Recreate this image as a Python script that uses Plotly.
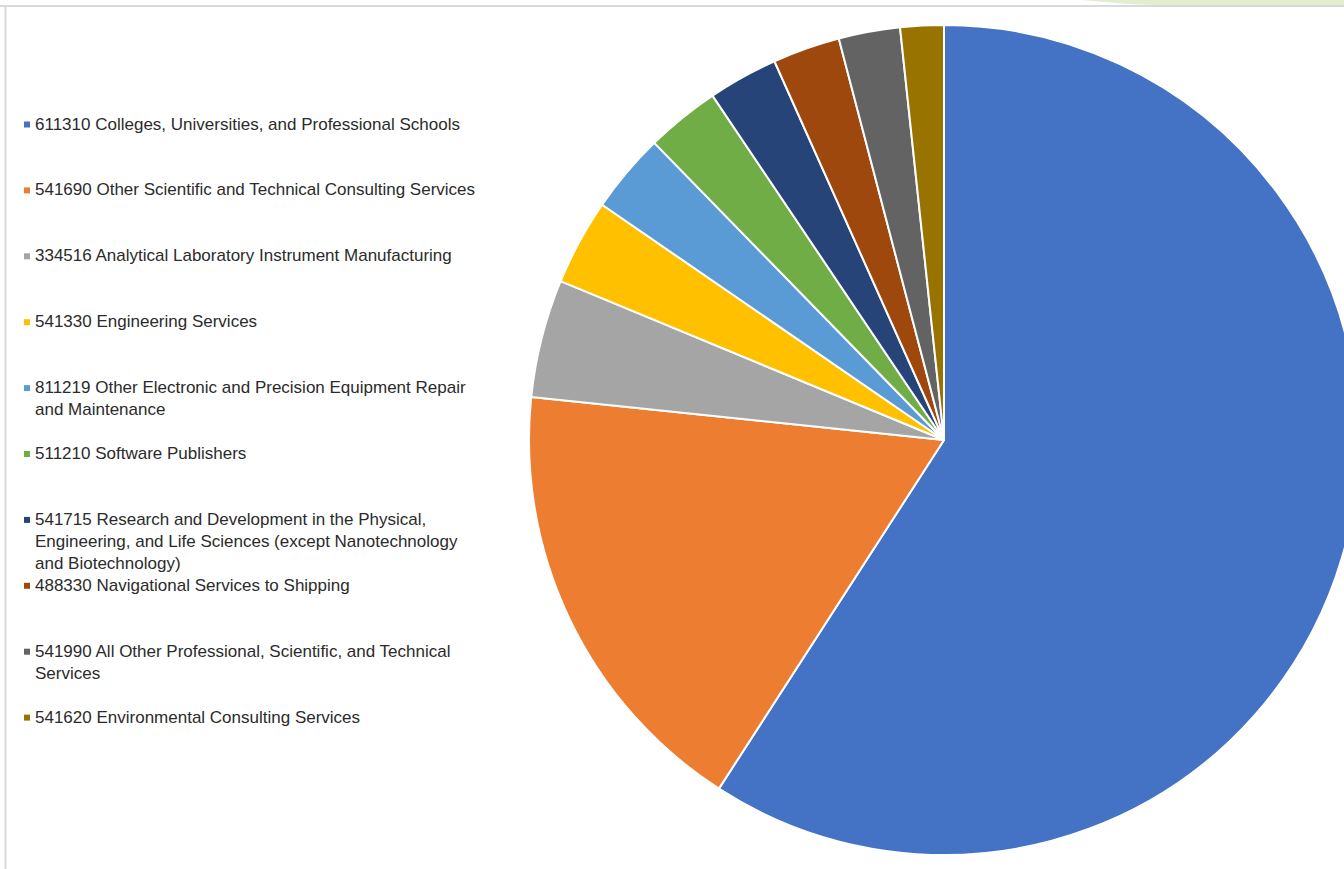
import plotly.graph_objects as go

# ---- data (percent of total) ----
labels = [
    "611310 Colleges, Universities, and Professional Schools",
    "541690 Other Scientific and Technical Consulting Services",
    "334516 Analytical Laboratory Instrument Manufacturing",
    "541330 Engineering Services",
    "811219 Other Electronic and Precision Equipment Repair and Maintenance",
    "511210 Software Publishers",
    "541715 Research and Development in the Physical, Engineering, and Life Sciences (except Nanotechnology and Biotechnology)",
    "488330 Navigational Services to Shipping",
    "541990 All Other Professional, Scientific, and Technical Services",
    "541620 Environmental Consulting Services",
]
legend_text = [
    "611310 Colleges, Universities, and Professional Schools",
    "541690 Other Scientific and Technical Consulting Services",
    "334516 Analytical Laboratory Instrument Manufacturing",
    "541330 Engineering Services",
    "811219 Other Electronic and Precision Equipment Repair<br>and Maintenance",
    "511210 Software Publishers",
    "541715 Research and Development in the Physical,<br>Engineering, and Life Sciences (except Nanotechnology<br>and Biotechnology)",
    "488330 Navigational Services to Shipping",
    "541990 All Other Professional, Scientific, and Technical<br>Services",
    "541620 Environmental Consulting Services",
]
values = [59.13, 17.53, 4.60, 3.34, 3.11, 2.88, 2.72, 2.62, 2.39, 1.69]
colors = ["#4472C4", "#ED7D31", "#A5A5A5", "#FFC000", "#5B9BD5",
          "#70AD47", "#264478", "#9E480E", "#636363", "#997300"]

W, H = 1360, 869

fig = go.Figure(go.Pie(
    labels=labels,
    values=values,
    sort=False,
    direction="clockwise",
    rotation=0,
    marker=dict(colors=colors, line=dict(color="white", width=2)),
    textinfo="none",
    showlegend=False,
    domain=dict(x=[529 / W, 1359 / W], y=[1 - 855 / H, 1 - 25 / H]),
))

# ---- legend drawn as text annotations + small swatches ----
annotations = []
shapes = []
first_center = 124.5
step = 65.9
for i, (txt, col) in enumerate(zip(legend_text, colors)):
    cy = first_center + step * i
    annotations.append(dict(
        x=33 / W, y=1 - (cy - 12) / H, xref="paper", yref="paper",
        xanchor="left", yanchor="top", align="left", showarrow=False,
        text=txt, font=dict(family="Liberation Sans, Arial, sans-serif", size=17, color="#2b2b2b"),
    ))
    shapes.append(dict(
        type="rect", xref="paper", yref="paper",
        x0=24 / W, x1=30 / W, y0=1 - (cy + 3) / H, y1=1 - (cy - 3) / H,
        fillcolor=col, line=dict(width=0),
    ))

# frame edges of the original screenshot
shapes.append(dict(type="path", xref="paper", yref="paper",
                   path=f"M {1080/W} 1 C {1110/W} {1-2/H}, {1130/W} {1-5/H}, {1160/W} {1-5/H} L 1 {1-5/H} L 1 1 Z",
                   fillcolor="#e3edcf", line=dict(width=0), layer="below"))
shapes.append(dict(type="line", xref="paper", yref="paper",
                   x0=0, x1=1, y0=1 - 6 / H, y1=1 - 6 / H,
                   line=dict(color="#d9d9d9", width=2)))
shapes.append(dict(type="line", xref="paper", yref="paper",
                   x0=5.5 / W, x1=5.5 / W, y0=0, y1=1 - 6 / H,
                   line=dict(color="#d9d9d9", width=2)))

fig.update_layout(
    width=W, height=H,
    margin=dict(l=0, r=0, t=0, b=0),
    paper_bgcolor="white", plot_bgcolor="white",
    annotations=annotations,
    shapes=shapes,
    showlegend=False,
)

fig.write_html(
    "out.html",
    config={"displayModeBar": False},
    post_script="document.body.style.margin='0';document.body.style.overflow='hidden';",
)
